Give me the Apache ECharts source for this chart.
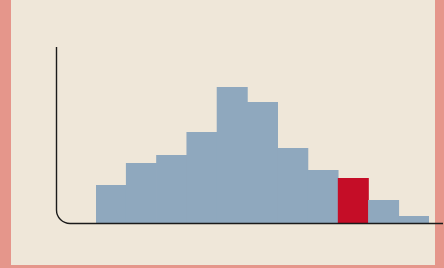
<!DOCTYPE html>
<html>
<head>
<meta charset="utf-8">
<script src="https://cdn.jsdelivr.net/npm/echarts@6/dist/echarts.min.js"></script>
<style>
  html, body { margin: 0; padding: 0; }
  #chart { width: 444px; height: 268px; }
</style>
</head>
<body>
<div id="chart"></div>
<script>
var categories = ['1', '2', '3', '4', '5', '6', '7', '8', '9', '10', '11'];
var counts = [38, 60, 68, 91, 136, 121, 75, 53, 45, 23, 7];
var highlightIndex = 8;

var chart = echarts.init(document.getElementById('chart'));

var axisStyle = { stroke: '#1a1a1a', lineWidth: 1.4, fill: null };

var option = {
    backgroundColor: '#E5968B',
    animation: false,
    grid: { left: 96, right: 15, top: 47, bottom: 45 },
    xAxis: {
        type: 'category',
        data: categories,
        boundaryGap: true,
        axisLine: { show: false },
        axisTick: { show: false },
        axisLabel: { show: false },
        splitLine: { show: false }
    },
    yAxis: {
        type: 'value',
        min: 0,
        max: 176,
        axisLine: { show: false },
        axisTick: { show: false },
        axisLabel: { show: false },
        splitLine: { show: false }
    },
    graphic: [
        {
            type: 'rect',
            z: -10,
            shape: { x: 11, y: 0, width: 424, height: 265 },
            style: { fill: '#EFE7D9' }
        },
        // axis lines with rounded corner
        {
            type: 'line',
            z: 100,
            shape: { x1: 56.5, y1: 47, x2: 56.5, y2: 210 },
            style: axisStyle
        },
        {
            type: 'arc',
            z: 100,
            shape: { cx: 70, cy: 210, r: 13.5, startAngle: Math.PI / 2, endAngle: Math.PI, clockwise: true },
            style: axisStyle
        },
        {
            type: 'line',
            z: 100,
            shape: { x1: 70, y1: 223.5, x2: 443, y2: 223.5 },
            style: axisStyle
        }
    ],
    series: [{
        type: 'bar',
        barWidth: 31,
        data: counts.map(function (v, i) {
            return {
                value: v,
                itemStyle: { color: i === highlightIndex ? '#C50D27' : '#8FA8BE' }
            };
        })
    }]
};

chart.setOption(option);
</script>
</body>
</html>
